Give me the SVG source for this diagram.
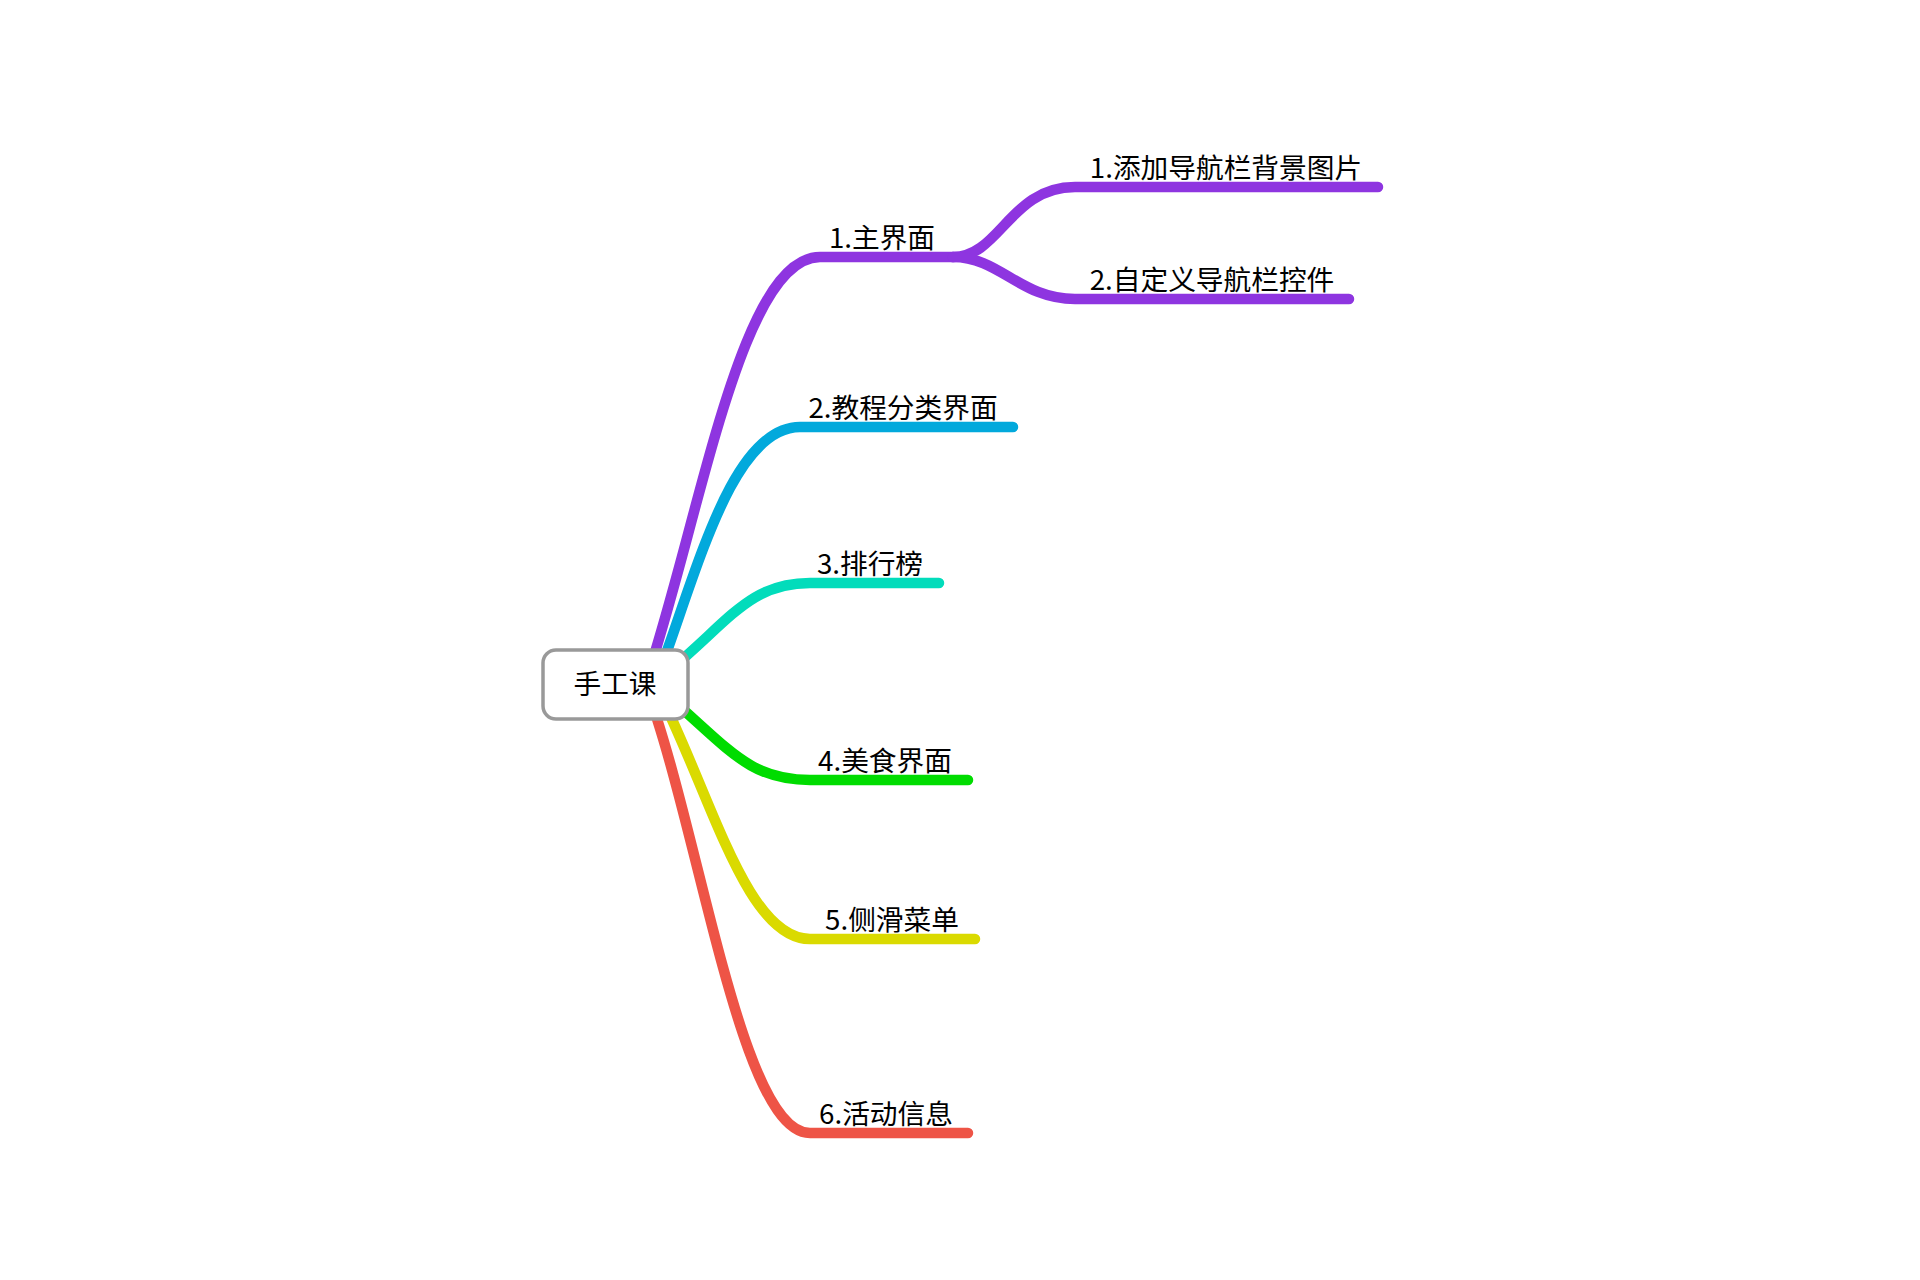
<svg xmlns="http://www.w3.org/2000/svg" width="1920" height="1280" viewBox="0 0 1920 1280">
<style>
.ln{fill:none;stroke-width:10.5;stroke-linecap:round;stroke-linejoin:round}
.lb{font-family:"Noto Sans CJK SC","Noto Sans",sans-serif;font-size:27.7px;fill:#000;text-anchor:middle}
.p{stroke:#8E35E0}.b{stroke:#02A9DC}.t{stroke:#02DCBB}.g{stroke:#00DC00}.y{stroke:#DADA00}.r{stroke:#EE5446}
</style>
<rect width="1920" height="1280" fill="#fff"/>
<g id="connectors">
<path class="ln p" d="M645 684 C700 520 740 257 820 257 H953"/>
<path class="ln p" d="M953 257 C1000 257 1010 187 1075 187 H1378"/>
<path class="ln p" d="M953 257 C1000 257 1020 299 1075 299 H1349"/>
<path class="ln b" d="M655 684 C695 580 730 427 800 427 H1013"/>
<path class="ln t" d="M670 670 C730 620 750 583 810 583 H939"/>
<path class="ln g" d="M670 698 C730 750 750 780 810 780 H968"/>
<path class="ln y" d="M655 684 C710 790 745 939 810 939 H975"/>
<path class="ln r" d="M645 684 C700 830 740 1133 810 1133 H968"/>
</g>
<g id="root">
<rect x="543" y="650" width="145" height="69" rx="13" fill="#fff" stroke="#999" stroke-width="3.5"/>
<text x="615" y="694" class="lb" font-size="28.5">手工课</text>
</g>
<g id="n1"><text x="882" y="248" class="lb">1.主界面</text></g>
<g id="n1-1"><text x="1226" y="178" class="lb">1.添加导航栏背景图片</text></g>
<g id="n1-2"><text x="1212" y="290" class="lb">2.自定义导航栏控件</text></g>
<g id="n2"><text x="903" y="418" class="lb">2.教程分类界面</text></g>
<g id="n3"><text x="870" y="574" class="lb">3.排行榜</text></g>
<g id="n4"><text x="885" y="771" class="lb">4.美食界面</text></g>
<g id="n5"><text x="892" y="930" class="lb">5.侧滑菜单</text></g>
<g id="n6"><text x="886" y="1124" class="lb">6.活动信息</text></g>
</svg>
